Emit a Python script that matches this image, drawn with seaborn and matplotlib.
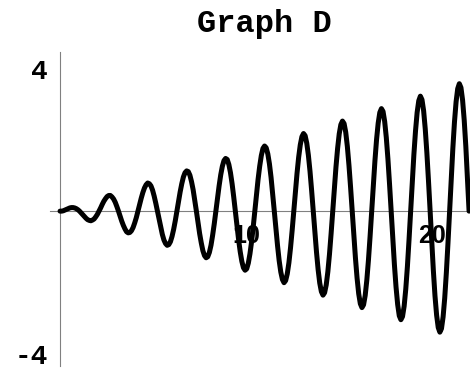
import numpy as np
import matplotlib
matplotlib.use('Agg')
import matplotlib.pyplot as plt
import seaborn as sns

# curve samples, evenly spaced in x from 0 to 21.99
y_vals = [0, 0.00, 0.01, 0.03, 0.05, 0.07, 0.09, 0.10, 0.10, 0.09, 0.07, 0.04,
          0, -0.05, -0.10, -0.15, -0.20, -0.24, -0.26, -0.27, -0.25, -0.22, -0.16, -0.09,
          0, 0.09, 0.19, 0.28, 0.35, 0.41, 0.44, 0.44, 0.40, 0.34, 0.25, 0.13,
          0, -0.14, -0.28, -0.40, -0.50, -0.58, -0.61, -0.60, -0.55, -0.46, -0.33, -0.18,
          0, 0.18, 0.36, 0.52, 0.65, 0.74, 0.79, 0.77, 0.71, 0.59, 0.42, 0.22,
          0, -0.23, -0.45, -0.65, -0.81, -0.91, -0.96, -0.94, -0.86, -0.71, -0.51, -0.27,
          0, 0.27, 0.54, 0.77, 0.96, 1.08, 1.13, 1.11, 1.01, 0.83, 0.60, 0.31,
          0, -0.32, -0.63, -0.89, -1.11, -1.25, -1.31, -1.28, -1.16, -0.96, -0.68, -0.36,
          0, 0.37, 0.71, 1.02, 1.26, 1.42, 1.48, 1.45, 1.31, 1.08, 0.77, 0.40,
          0, -0.41, -0.80, -1.14, -1.41, -1.59, -1.66, -1.62, -1.46, -1.20, -0.86, -0.45,
          0, 0.46, 0.89, 1.26, 1.56, 1.76, 1.83, 1.78, 1.61, 1.33, 0.95, 0.49,
          0, -0.50, -0.97, -1.39, -1.71, -1.92, -2.01, -1.95, -1.76, -1.45, -1.03, -0.54,
          0, 0.55, 1.06, 1.51, 1.86, 2.09, 2.18, 2.12, 1.91, 1.57, 1.12, 0.58,
          0, -0.59, -1.15, -1.64, -2.02, -2.26, -2.36, -2.29, -2.07, -1.70, -1.21, -0.63,
          0, 0.64, 1.24, 1.76, 2.17, 2.43, 2.53, 2.46, 2.22, 1.82, 1.29, 0.67,
          0, -0.68, -1.32, -1.88, -2.32, -2.60, -2.71, -2.63, -2.37, -1.94, -1.38, -0.72,
          0, 0.73, 1.41, 2.01, 2.47, 2.77, 2.88, 2.80, 2.52, 2.07, 1.47, 0.76,
          0, -0.77, -1.50, -2.13, -2.62, -2.94, -3.05, -2.96, -2.67, -2.19, -1.56, -0.81,
          0, 0.82, 1.59, 2.25, 2.77, 3.10, 3.23, 3.13, 2.82, 2.31, 1.64, 0.85,
          0, -0.86, -1.67, -2.38, -2.92, -3.27, -3.40, -3.30, -2.97, -2.44, -1.73, -0.90,
          0, 0.91, 1.76, 2.50, 3.07, 3.44, 3.58, 3.47, 3.12, 2.56, 1.82, 0.94,
          0]
x_vals = np.linspace(0, 21.99, len(y_vals))

x_ticks = [10, 20]
y_ticks = [-4, 4]
y_labels = ['-4', '4']
title = 'Graph D'

sns.set_style('white')
plt.rcParams['font.family'] = ['Liberation Mono', 'DejaVu Sans']
plt.rcParams['text.color'] = 'black'

fig = plt.figure(figsize=(4.7, 3.68), dpi=100)
ax = fig.add_axes([50/470, 2/368, 420/470, 314/368])

sns.lineplot(x=x_vals, y=y_vals, color='black', linewidth=3.6, sort=False,
             estimator=None, ax=ax, zorder=3, clip_on=False)

ax.set_xlim(-0.54, 22.04)
ax.set_ylim(-4.35, 4.47)

for s in ['top', 'right']:
    ax.spines[s].set_visible(False)
for s in ['left', 'bottom']:
    ax.spines[s].set_position(('data', 0))
    ax.spines[s].set_color('#808080')
    ax.spines[s].set_linewidth(0.8)

ax.set_xticks(x_ticks)
ax.set_xticklabels([str(v) for v in x_ticks], fontfamily='Liberation Sans',
                   fontweight='bold', fontsize=18)
ax.set_yticks(y_ticks)
ax.set_yticklabels(y_labels, fontweight='bold', fontsize=20)
ax.tick_params(axis='both', direction='in', length=3, width=0.8, color='#808080',
               labelcolor='black')
ax.tick_params(axis='x', pad=9)
ax.tick_params(axis='y', pad=9)

fig.text(264/470, 1 - 32/368, title, ha='center', va='baseline',
         fontweight='bold', fontsize=23)

fig.savefig('out.png', dpi=100)
